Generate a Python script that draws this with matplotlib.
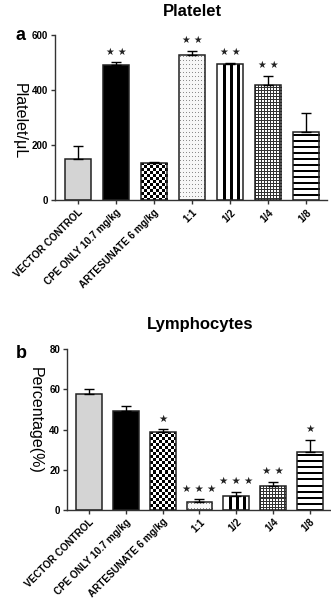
import numpy as np
import matplotlib
matplotlib.use('Agg')
import matplotlib.pyplot as plt

plt.rcParams['font.family'] = ['Liberation Sans', 'DejaVu Sans']

groups = ['VECTOR CONTROL', 'CPE ONLY 10.7 mg/kg', 'ARTESUNATE 6 mg/kg',
          '1:1', '1/2', '1/4', '1/8']
platelet_mean = [150, 491, 137, 528, 495, 419, 249]
platelet_err = [48, 11, 4, 15, 5, 34, 67]
platelet_stars = ['', '**', '', '**', '**', '**', '']
lymph_mean = [57.8, 49.5, 39.0, 4.2, 7.0, 12.0, 29.0]
lymph_err = [2.3, 2.5, 1.2, 1.2, 2.0, 2.0, 6.0]
lymph_stars = ['', '', '*', '***', '***', '**', '*']
fills = ['gray', 'black', 'checker', 'dots', 'vstripes', 'grid', 'hstripes']

EDGE = '#222222'


def pattern(kind, w, h):
    # pixel pattern for a bar of w x h pixels (row 0 = top)
    r, c = np.mgrid[0:h, 0:w]
    img = np.ones((h, w, 3))
    if kind == 'checker':
        img[((r // 3 + c // 3) % 2) == 0] = 0.0
    elif kind == 'dots':
        img[:] = 0.97
        img[(r % 4 == 2) & (c % 3 == 1)] = 0.55
    elif kind == 'vstripes':
        img[((c - 6) % 7 < 3) & (c >= 6) & (c < w - 3)] = 0.0
    elif kind == 'grid':
        img[(r % 3 == 0) | (c % 3 == 0)] = 0.2
    elif kind == 'hstripes':
        img[(r % 6 == 3) | (r % 6 == 4)] = 0.0
    return img


def panel(ax, means, errs, stars, ylim, yticks, star_size):
    x = np.arange(len(groups))
    ax.set_xlim(-0.6, len(groups) - 0.45)
    ax.set_ylim(*ylim)
    bars = ax.bar(x, means, width=0.7, color='white', linewidth=0, zorder=2)
    for bar, kind in zip(bars, fills):
        if kind == 'gray':
            bar.set_facecolor('#d4d4d4')
        elif kind == 'black':
            bar.set_facecolor('black')
        else:
            bb = bar.get_window_extent()
            w, h = int(round(bb.width)), int(round(bb.height))
            im = ax.imshow(pattern(kind, max(w, 1), max(h, 1)),
                           extent=(bar.get_x(), bar.get_x() + bar.get_width(),
                                   0, bar.get_height()),
                           origin='upper', interpolation='nearest',
                           aspect='auto', zorder=2.5)
            im.set_clip_path(bar)
    ax.bar(x, means, width=0.7, fill=False, edgecolor=EDGE, linewidth=1.1,
           zorder=3)
    ax.errorbar(x, means, yerr=[np.zeros(len(errs)), errs], fmt='none',
                ecolor='black', elinewidth=1, capsize=3.5, capthick=1,
                zorder=4)
    ax.set_xlim(-0.6, len(groups) - 0.45)
    ax.set_ylim(*ylim)
    for xi, m, e, s in zip(x, means, errs, stars):
        if s:
            ax.annotate(' '.join('\u2605' * len(s)), (xi, m + e),
                        xytext=(0, 4), textcoords='offset points',
                        ha='center', va='bottom', fontsize=star_size,
                        family='DejaVu Sans', color='#222222')
    ax.set_yticks(yticks)
    ax.set_xticks(x)
    ax.set_xticklabels(groups, rotation=45, ha='right', va='top',
                       rotation_mode='anchor', fontsize=7.1, fontweight='bold')
    for lab in ax.get_yticklabels():
        lab.set_fontweight('bold')
        lab.set_fontsize(7)
    ax.tick_params(axis='both', length=3, width=1, color='#333333', pad=2)
    for side in ['top', 'right']:
        ax.spines[side].set_visible(False)
    for side in ['left', 'bottom']:
        ax.spines[side].set_linewidth(1)
        ax.spines[side].set_color('#333333')
    ax.patch.set_alpha(0)


fig = plt.figure(figsize=(3.31, 6.01), dpi=100)

ax1 = fig.add_axes([55 / 331, 1 - 200.5 / 601, 272 / 331, 165.5 / 601])
panel(ax1, platelet_mean, platelet_err, platelet_stars, (0, 600),
      [0, 200, 400, 600], 7)
fig.text(19 / 331, 1 - 121 / 601, 'Platelet/\u03bcL', rotation=270,
         ha='center', va='center', fontsize=11.5)
fig.text(192 / 331, 1 - 11 / 601, 'Platelet', ha='center', va='center',
         fontsize=12, fontweight='bold')
fig.text(21 / 331, 1 - 36 / 601, 'a', ha='center', va='center',
         fontsize=13, fontweight='bold')

ax2 = fig.add_axes([67 / 331, 1 - 510 / 601, 263 / 331, 160.7 / 601])
panel(ax2, lymph_mean, lymph_err, lymph_stars, (0, 80),
      [0, 20, 40, 60, 80], 7.5)
fig.text(35 / 331, 1 - 420 / 601, 'Percentage(%)', rotation=270,
         ha='center', va='center', fontsize=11.5)
fig.text(200 / 331, 1 - 325 / 601, 'Lymphocytes', ha='center', va='center',
         fontsize=12, fontweight='bold')
fig.text(21 / 331, 1 - 354 / 601, 'b', ha='center', va='center',
         fontsize=13, fontweight='bold')

fig.savefig('out.png', dpi=100)
